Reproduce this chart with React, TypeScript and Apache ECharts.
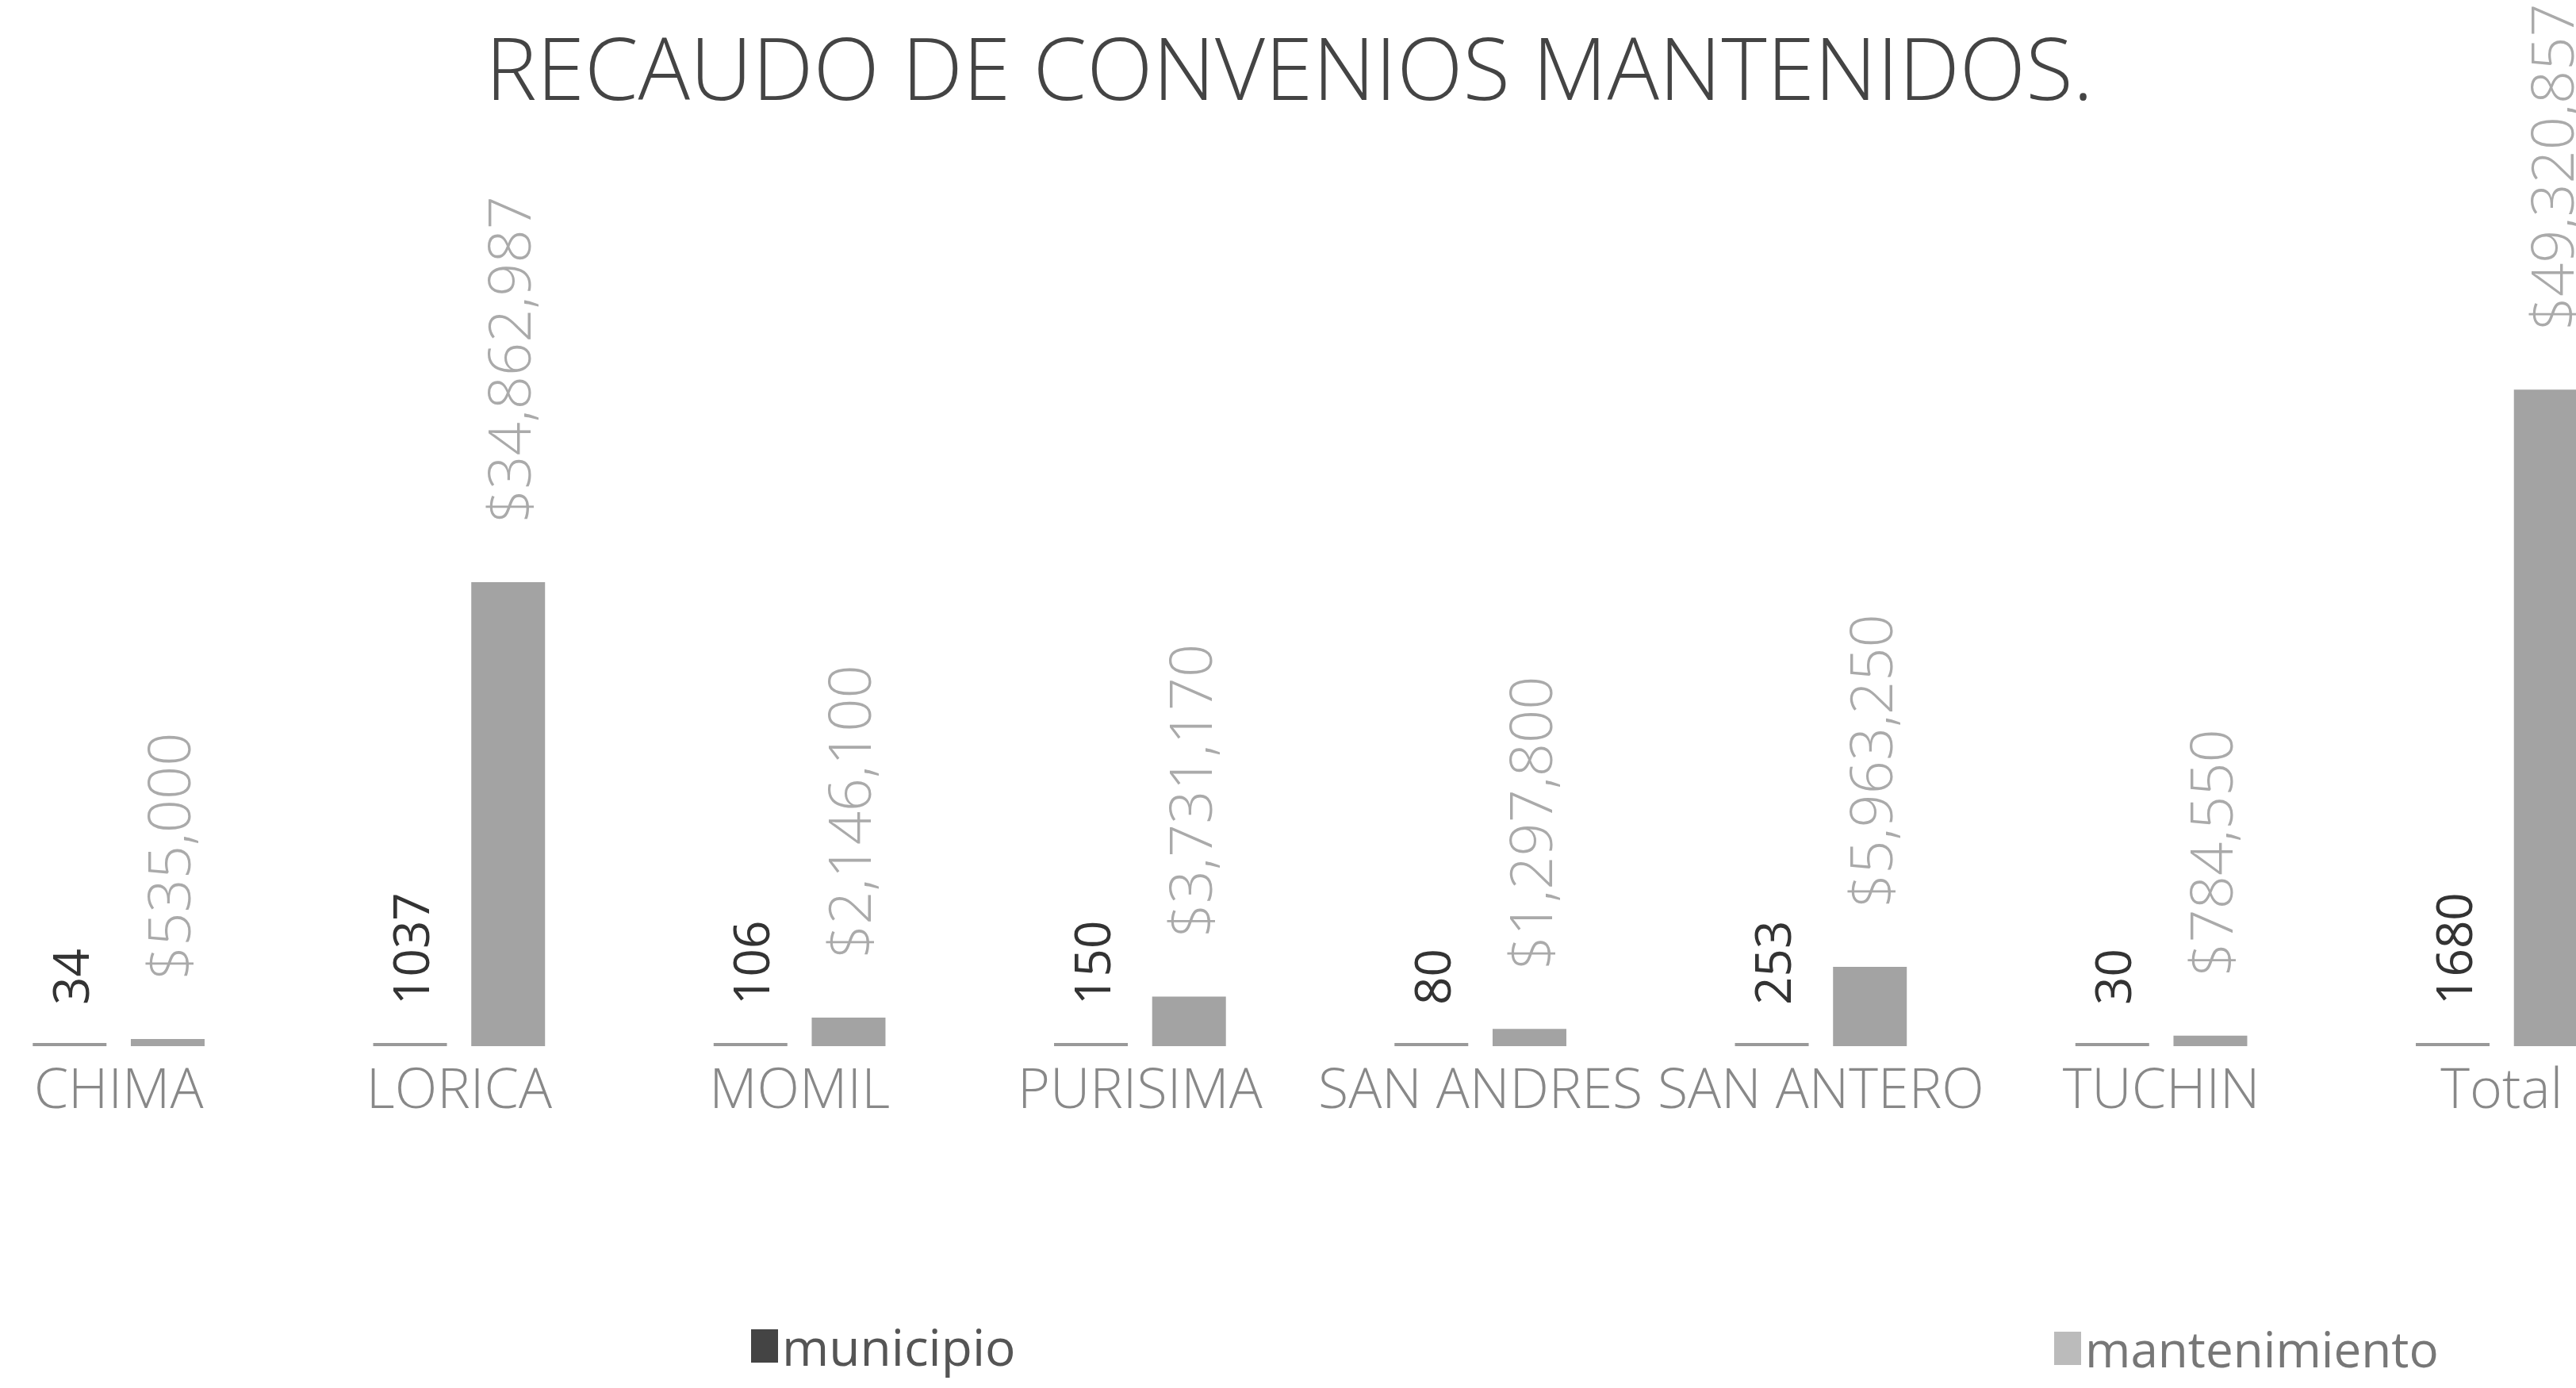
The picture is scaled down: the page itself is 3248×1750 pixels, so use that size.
import React, { useEffect, useRef } from "react";
import * as echarts from "echarts";

const categories = ["CHIMA", "LORICA", "MOMIL", "PURISIMA", "SAN ANDRES", "SAN ANTERO", "TUCHIN", "Total"];
const municipio = [34, 1037, 106, 150, 80, 253, 30, 1680];
const mantenimiento = [535000, 34862987, 2146100, 3731170, 1297800, 5963250, 784550, 49320857];
const titleText = "RECAUDO DE CONVENIOS MANTENIDOS.";

const money = (v: number) => "$" + v.toLocaleString("en-US");

export default function App() {
  const ref = useRef<HTMLDivElement>(null);
  useEffect(() => {
    if (!ref.current) return;
    const chart = echarts.init(ref.current, undefined, { renderer: "svg" });
    chart.setOption({
      animation: false,
      backgroundColor: "#ffffff",
      textStyle: { fontFamily: "Open Sans" },
      title: {
        text: titleText,
        left: 672,
        top: 24,
        textStyle: { fontSize: 109, fontWeight: 300, color: "#444", fontFamily: "Open Sans" },
      },
      legend: [
        {
          data: [{ name: "municipio", itemStyle: { color: "#444" } }],
          left: 1007,
          top: 1660,
          icon: "rect",
          itemWidth: 34,
          itemHeight: 42,
          itemGap: 6,
          textStyle: { fontSize: 64, color: "#555", fontFamily: "Open Sans" },
        },
        {
          data: [{ name: "mantenimiento", itemStyle: { color: "#bbb" } }],
          left: 2650,
          top: 1664,
          icon: "rect",
          itemWidth: 34,
          itemHeight: 42,
          textStyle: { fontSize: 62, color: "#777", fontFamily: "Open Sans" },
        },
      ],
      grid: { left: 0, right: 0, top: 312, bottom: 431, containLabel: false },
      xAxis: {
        type: "category",
        data: categories,
        axisLine: { show: false },
        axisTick: { show: false },
        axisLabel: {
          interval: 0,
          hideOverlap: false,
          fontSize: 70,
          fontWeight: 300,
          color: "#888",
          margin: 16,
          fontFamily: "Open Sans",
        },
      },
      yAxis: {
        type: "value",
        min: 0,
        max: 60000000,
        show: false,
        splitLine: { show: false },
      },
      series: [
        {
          name: "municipio",
          type: "bar",
          data: municipio,
          barWidth: 93,
          barGap: "33%",
          barMinHeight: 4,
          itemStyle: { color: "#999" },
          label: {
            show: true,
            position: "top",
            rotate: 90,
            align: "left",
            verticalAlign: "middle",
            distance: 48,
            fontSize: 62,
            color: "#333",
            fontFamily: "Open Sans",
          },
        },
        {
          name: "mantenimiento",
          type: "bar",
          data: mantenimiento,
          barWidth: 93,
          barMinHeight: 4,
          itemStyle: { color: "#a3a3a3" },
          label: {
            show: true,
            position: "top",
            rotate: 90,
            align: "left",
            verticalAlign: "middle",
            distance: 75,
            fontSize: 74,
            fontWeight: 300,
            color: "#aaa",
            fontFamily: "Open Sans",
            formatter: (p: any) => money(p.value),
          },
        },
      ],
    });
    return () => chart.dispose();
  }, []);
  return (
    <div
      ref={ref}
      style={{ position: "absolute", left: -65, top: 0, width: 3434, height: 1750 }}
    />
  );
}
